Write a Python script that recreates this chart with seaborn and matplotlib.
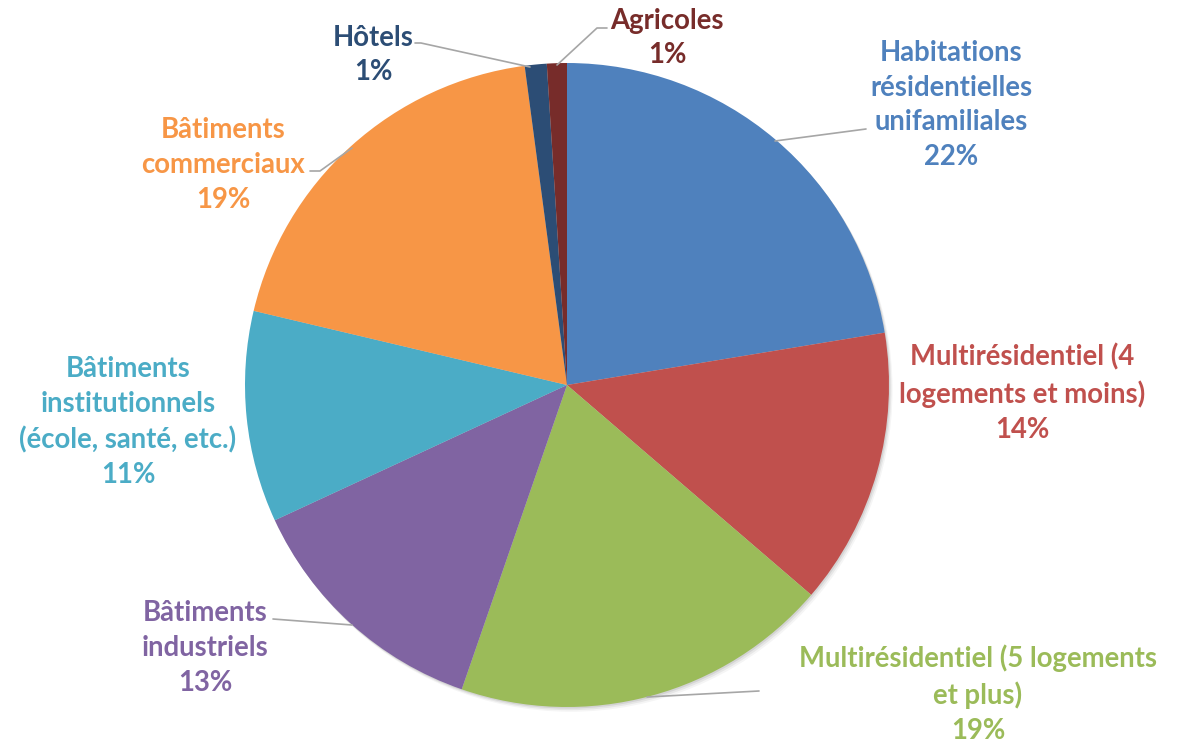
import matplotlib
matplotlib.use('Agg')
import matplotlib.pyplot as plt
import seaborn as sns
import numpy as np

sns.set_theme(style="white")
plt.rcParams['font.family'] = ['Lato', 'DejaVu Sans']

# Data (clockwise from 12 o'clock)
categories = [
    "Habitations\nrésidentielles\nunifamiliales",
    "Multirésidentiel (4\nlogements et moins)",
    "Multirésidentiel (5 logements\net plus)",
    "Bâtiments\nindustriels",
    "Bâtiments\ninstitutionnels\n(école, santé, etc.)",
    "Bâtiments\ncommerciaux",
    "Hôtels",
    "Agricoles",
]
shares = [22.4, 13.9, 19.0, 12.8, 10.6, 19.2, 1.1, 1.0]
colors = ["#4F81BD", "#C0504D", "#9BBB59", "#8064A2",
          "#4BACC6", "#F79646", "#2C4D75", "#772C2A"]

W, H = 1179, 743
fig = plt.figure(figsize=(W / 100, H / 100), dpi=100)
ax = fig.add_axes([0, 0, 1, 1])

cx, cy, r = 567, H - 385, 322

# soft drop shadow
for k, a in zip([6, 4, 2], [0.04, 0.06, 0.08]):
    ax.add_patch(plt.Circle((cx + k * 0.6, cy - k * 0.8), r, color='black',
                            alpha=a, lw=0, zorder=0))

wedges, _ = ax.pie(shares, colors=colors, startangle=90, counterclock=False,
                   center=(cx, cy), radius=r,
                   wedgeprops=dict(linewidth=0, zorder=1))

ax.set_xlim(0, W)
ax.set_ylim(0, H)
ax.set_aspect('auto')
ax.axis('off')

total = sum(shares)
# label centre (image px) for each slice
label_pos = [(951, 105), (1022, 393), (978, 694), (205, 648),
             (128, 422), (223, 165), (373, 55), (667, 38)]
# leader lines (image px)
leaders = {
    0: [(866, 129), (775, 141)],
    2: [(759, 691), (647, 697)],
    3: [(273, 619), (352, 625)],
    5: [(310, 171), (320, 171), (352, 148)],
    6: [(415, 43), (421, 43), (530, 67)],
    7: [(607, 28), (597, 28), (557, 65)],
}

for i, (name, v) in enumerate(zip(categories, shares)):
    txt = f"{name}\n{v / total * 100:.0f}%"
    x, y = label_pos[i]
    ax.text(x, H - y, txt, ha='center', va='center', color=colors[i],
            fontsize=19.8, fontweight='bold', linespacing=1.42, zorder=3)

for i, pts in leaders.items():
    xs = [p[0] for p in pts]
    ys = [H - p[1] for p in pts]
    ax.plot(xs, ys, color='#A6A6A6', lw=1.2, zorder=2)

fig.savefig('out.png', dpi=100)
